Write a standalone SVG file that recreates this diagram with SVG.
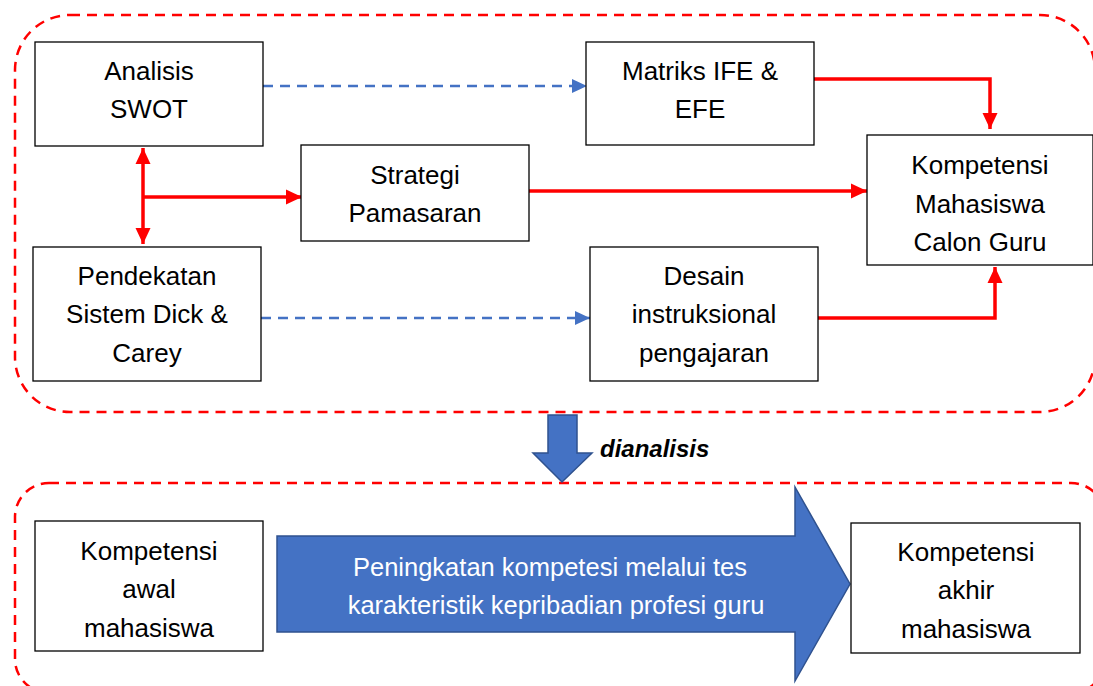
<svg xmlns="http://www.w3.org/2000/svg" width="1093" height="686" viewBox="0 0 1093 686">
<style>
.box{fill:#fff;stroke:#000;stroke-width:1.3}
.t{font-family:"Liberation Sans",Arial,sans-serif;font-size:26px;fill:#000;text-anchor:middle}
.tw{font-family:"Liberation Sans",Arial,sans-serif;font-size:25.5px;fill:#fff;text-anchor:middle}
.grp{fill:none;stroke:#FF0000;stroke-width:2.5;stroke-dasharray:10 7}
.red{fill:none;stroke:#FF0000;stroke-width:3.5}
.blue{fill:none;stroke:#4472C4;stroke-width:2.6;stroke-dasharray:10 7}
.big{fill:#4472C4;stroke:#2F528F;stroke-width:1.5}
</style>
<defs>
<marker id="ar" markerUnits="userSpaceOnUse" markerWidth="17" markerHeight="17" refX="16" refY="8.5" orient="auto-start-reverse" viewBox="0 0 17 17">
<path d="M0,1 L16,8.5 L0,16 z" fill="#FF0000"/>
</marker>
<marker id="ab" markerUnits="userSpaceOnUse" markerWidth="16" markerHeight="16" refX="15" refY="8" orient="auto" viewBox="0 0 16 16">
<path d="M0,1 L15,8 L0,15 z" fill="#4472C4"/>
</marker>
</defs>
<rect width="1093" height="686" fill="#fff"/>

<g id="groups">
<rect class="grp" x="15" y="15" width="1080" height="397" rx="55" ry="55"/>
<rect class="grp" x="15" y="483" width="1090" height="210" rx="34" ry="34"/>
</g>

<g id="connectors">
<path class="blue" d="M263,86 L587,86" marker-end="url(#ab)"/>
<path class="blue" d="M261,318 L590,318" marker-end="url(#ab)"/>
<path class="red" d="M143,148 L143,244" marker-start="url(#ar)" marker-end="url(#ar)"/>
<path class="red" d="M143,197 L302,197" marker-end="url(#ar)"/>
<path class="red" d="M529,191 L867,191" marker-end="url(#ar)"/>
<path class="red" d="M814,79 L990,79 L990,129" marker-end="url(#ar)"/>
<path class="red" d="M818,318 L995,318 L995,267" marker-end="url(#ar)"/>
</g>

<g id="down-arrow">
<path class="big" d="M548,415 L577,415 L577,453 L592,453 L562,482 L533,453 L548,453 z"/>
<text x="600" y="457" style="font-family:'Liberation Sans',Arial,sans-serif;font-size:24px;font-weight:bold;font-style:italic" fill="#000">dianalisis</text>
</g>

<g id="analisis-swot">
<rect class="box" x="35" y="42" width="228" height="104"/>
<text class="t" x="149" y="80">Analisis</text>
<text class="t" x="149" y="118">SWOT</text>
</g>

<g id="strategi">
<rect class="box" x="301" y="145" width="228" height="96"/>
<text class="t" x="415" y="184">Strategi</text>
<text class="t" x="415" y="222">Pamasaran</text>
</g>

<g id="pendekatan">
<rect class="box" x="33" y="247" width="228" height="134"/>
<text class="t" x="147" y="285">Pendekatan</text>
<text class="t" x="147" y="323">Sistem Dick &amp;</text>
<text class="t" x="147" y="362">Carey</text>
</g>

<g id="matriks">
<rect class="box" x="586" y="42" width="228" height="103"/>
<text class="t" x="700" y="80">Matriks IFE &amp;</text>
<text class="t" x="700" y="118">EFE</text>
</g>

<g id="desain">
<rect class="box" x="590" y="247" width="228" height="134"/>
<text class="t" x="704" y="285">Desain</text>
<text class="t" x="704" y="323">instruksional</text>
<text class="t" x="704" y="362">pengajaran</text>
</g>

<g id="kompetensi-calon-guru">
<rect class="box" x="867" y="135" width="226" height="130"/>
<text class="t" x="980" y="174">Kompetensi</text>
<text class="t" x="980" y="213">Mahasiswa</text>
<text class="t" x="980" y="251">Calon Guru</text>
</g>

<g id="kompetensi-awal">
<rect class="box" x="35" y="521" width="228" height="130"/>
<text class="t" x="149" y="560">Kompetensi</text>
<text class="t" x="149" y="598">awal</text>
<text class="t" x="149" y="637">mahasiswa</text>
</g>

<g id="peningkatan">
<path class="big" d="M277,536 L795,536 L795,487 L850,584 L795,681 L795,632 L277,632 z"/>
<text class="tw" x="550" y="576">Peningkatan kompetesi melalui tes</text>
<text class="tw" x="556" y="614">karakteristik kepribadian profesi guru</text>
</g>

<g id="kompetensi-akhir">
<rect class="box" x="851" y="523" width="229" height="130"/>
<text class="t" x="966" y="561">Kompetensi</text>
<text class="t" x="966" y="599">akhir</text>
<text class="t" x="966" y="638">mahasiswa</text>
</g>
</svg>
